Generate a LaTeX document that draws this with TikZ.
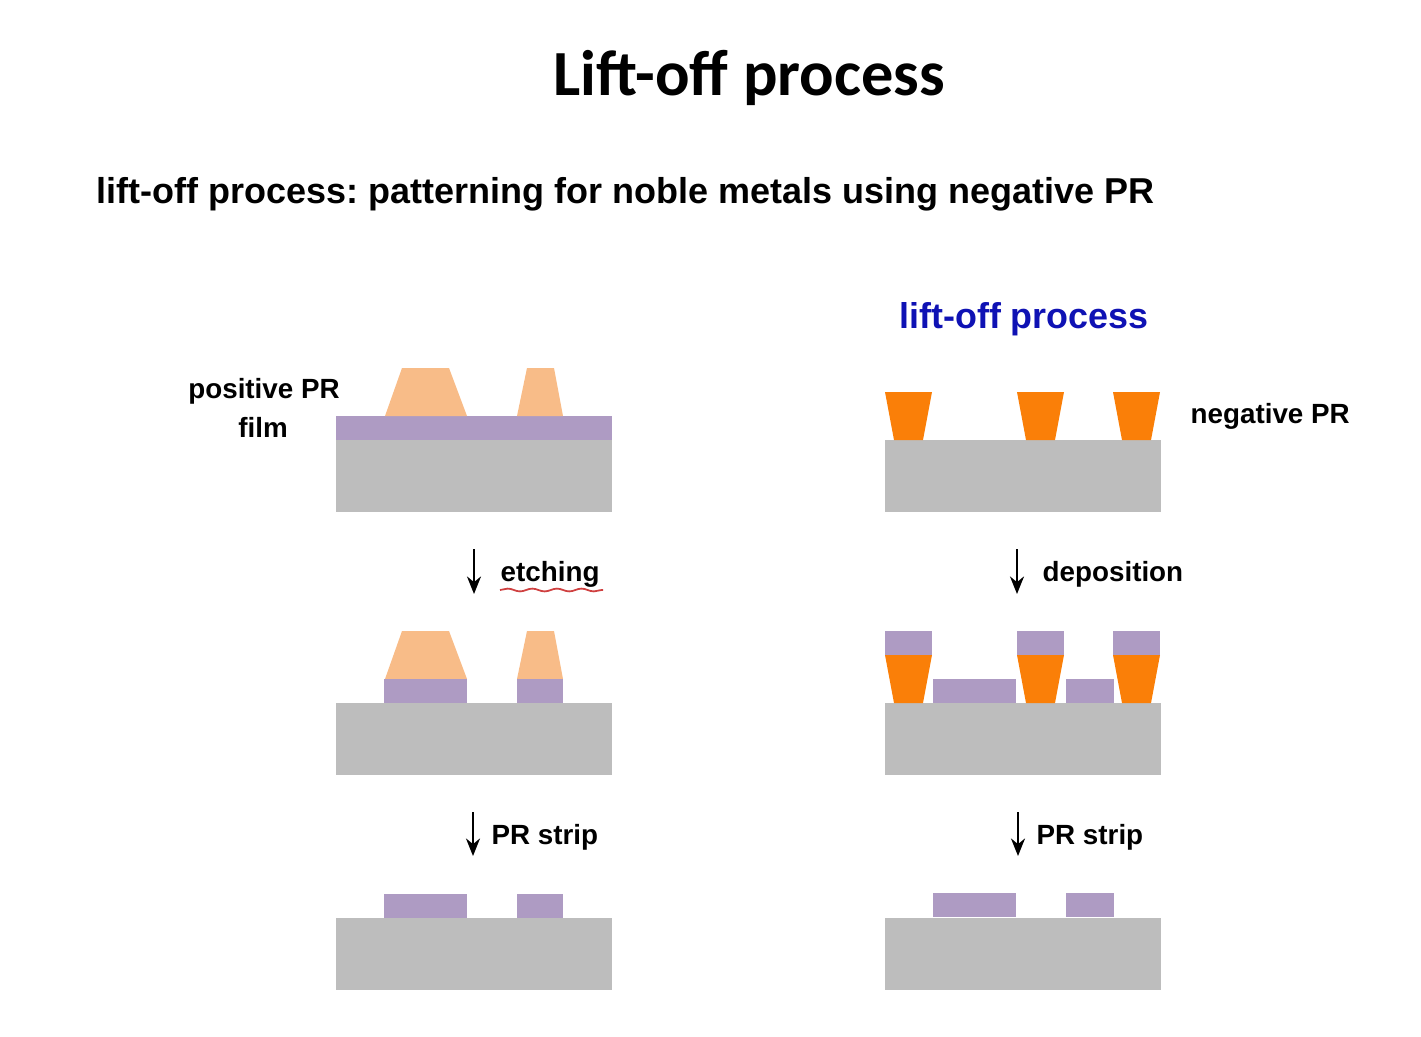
\documentclass[tikz,border=0pt]{standalone}
\usepackage{fontspec}
\setmainfont{Liberation Sans}
\newfontfamily\titlefont{Carlito}
\usetikzlibrary{arrows.meta,decorations.pathmorphing}
\frenchspacing
\definecolor{substrategray}{HTML}{BDBDBD}
\definecolor{metalpurple}{HTML}{AE9BC3}
\definecolor{posorange}{HTML}{F8BC88}
\definecolor{negorange}{HTML}{FA7F08}
\definecolor{liftblue}{HTML}{0F12B4}
\tikzset{
  lbl/.style={font=\fontsize{7.9}{10}\selectfont\bfseries,inner sep=0pt,text=black},
  stepline/.style={-{Stealth[length=5pt,width=4pt]},line width=0.55pt,black}
}
\begin{document}
\begin{tikzpicture}[x=0.01cm,y=-0.01cm]
  \useasboundingbox (0,0) rectangle (1421,1036);

  % titles
  \node[inner sep=0pt,font=\titlefont\fontsize{18.3}{22}\selectfont\bfseries] (title) at (749,78) {Lift-off process};
  \node[inner sep=0pt,font=\fontsize{10.23}{12}\selectfont\bfseries,anchor=west,text=black] (subtitle) at (96,194) {lift-off process: patterning for noble metals using negative PR};
  \node[inner sep=0pt,font=\fontsize{10.2}{12}\selectfont\bfseries,text=liftblue] (lifttitle) at (1024,319) {lift-off process};

  % substrates, left and right
  \foreach \x in {336,885} {
    \foreach \y in {440,703,918} {
      \fill[substrategray] (\x,\y) rectangle (\x+276,\y+72);
    }
  }

  % left column: film and positive PR
  \fill[metalpurple] (336,416) rectangle (612,440);
  \foreach \y in {368,631} {
    \fill[posorange] (385,\y+48) -- (402,\y) -- (449,\y) -- (467,\y+48) -- cycle;
    \fill[posorange] (517,\y+48) -- (527,\y) -- (554,\y) -- (563,\y+48) -- cycle;
  }
  \foreach \y in {679,894} {
    \fill[metalpurple] (384,\y) rectangle (467,\y+24);
    \fill[metalpurple] (517,\y) rectangle (563,\y+24);
  }

  % right column: negative PR
  \foreach \x in {885,1017,1113} {
    \foreach \y in {392,655} {
      \fill[negorange] (\x,\y) -- (\x+47,\y) -- (\x+38,\y+48) -- (\x+9,\y+48) -- cycle;
    }
    \fill[metalpurple] (\x,631) rectangle (\x+47,655);
  }
  \foreach \y in {679,893} {
    \fill[metalpurple] (933,\y) rectangle (1016,\y+24);
    \fill[metalpurple] (1066,\y) rectangle (1114,\y+24);
  }

  % labels
  \node[lbl] (positive) at (264,391) {positive PR};
  \node[lbl] (film) at (263,427) {film};
  \node[lbl,anchor=west] (negative) at (1190,416) {negative PR};
  \node[lbl,anchor=west] (etching) at (500,574) {etching};
  \node[lbl,anchor=west] (deposition) at (1042,574) {deposition};
  \node[lbl,anchor=west] (stripl) at (491,837) {PR strip};
  \node[lbl,anchor=west] (stripr) at (1036,837) {PR strip};

  % arrows between the steps
  \coordinate (etchtop) at (474,549);
  \coordinate (etchend) at (474,594);
  \coordinate (deptop) at (1017,549);
  \coordinate (depend) at (1017,594);
  \coordinate (striplt) at (473,812);
  \coordinate (striple) at (473,856);
  \coordinate (striprt) at (1018,812);
  \coordinate (stripre) at (1018,856);
  \draw[stepline] (etchtop) -- (etchend);
  \draw[stepline] (deptop) -- (depend);
  \draw[stepline] (striplt) -- (striple);
  \draw[stepline] (striprt) -- (stripre);

  % spell-check squiggle
  \coordinate (squigl) at (500,590);
  \coordinate (squigr) at (603,590);
  \draw[red!75!black,opacity=0.75,line width=0.5pt,decorate,decoration={snake,amplitude=0.4pt,segment length=7pt}] (squigl) -- (squigr);
\end{tikzpicture}
\end{document}
